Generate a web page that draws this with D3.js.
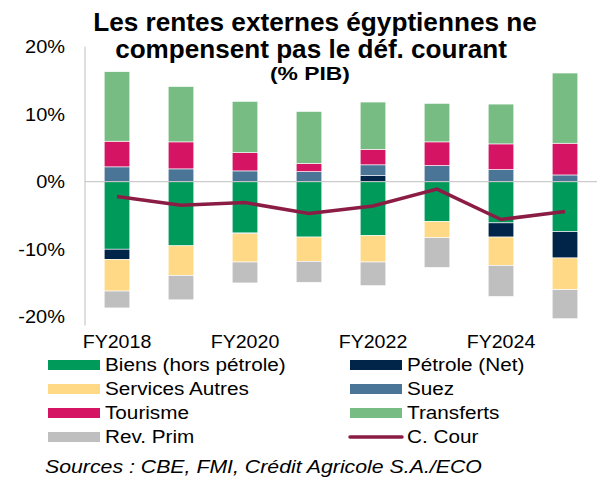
<!DOCTYPE html>
<html>
<head>
<meta charset="utf-8">
<script src="https://cdn.jsdelivr.net/npm/d3@7"></script>
<style>
  body { margin: 0; background: #fff; }
  text { font-family: Arial, "Liberation Sans", sans-serif; fill: #000; }
</style>
</head>
<body>
<div id="chart"></div>
<script>
const years = ['FY2018', 'FY2019', 'FY2020', 'FY2021', 'FY2022', 'FY2023', 'FY2024', 'FY2025'];
const biens = [-10.0, -9.5, -7.6, -8.2, -8.0, -5.9, -6.1, -7.4];
const petrole = [-1.5, 0, -0.1, 0, 0.9, 0, -2.1, -3.9];
const services = [-4.7, -4.4, -4.2, -3.6, -3.9, -2.4, -4.2, -4.7];
const suez = [2.2, 1.9, 1.6, 1.5, 1.6, 2.4, 1.8, 1.0];
const tourisme = [3.8, 4.0, 2.7, 1.2, 2.3, 3.5, 3.8, 4.7];
const transferts = [10.3, 8.2, 7.6, 7.7, 7.0, 5.7, 5.9, 10.4];
const revPrim = [-2.5, -3.6, -3.1, -3.1, -3.5, -4.4, -4.6, -4.3];
const cCour = [-2.2, -3.5, -3.1, -4.7, -3.6, -1.1, -5.6, -4.4];
const yTicks = [20, 10, 0, -10, -20];
const xLabels = ['FY2018', 'FY2020', 'FY2022', 'FY2024'];

const series = [
  { key: 'biens', name: 'Biens (hors pétrole)', values: biens, color: '#009A5B' },
  { key: 'petrole', name: 'Pétrole (Net)', values: petrole, color: '#002549' },
  { key: 'services', name: 'Services Autres', values: services, color: '#FFD985' },
  { key: 'suez', name: 'Suez', values: suez, color: '#4A7597' },
  { key: 'tourisme', name: 'Tourisme', values: tourisme, color: '#D51464' },
  { key: 'transferts', name: 'Transferts', values: transferts, color: '#77BC83' },
  { key: 'revPrim', name: 'Rev. Prim', values: revPrim, color: '#BFBFBF' }
];
const lineColor = '#8B1D45';

const width = 597, height = 482;
const svg = d3.select('#chart').append('svg')
  .attr('width', width)
  .attr('height', height);

// the reference text is a bit wider than Arial, stretch it horizontally
function stretch(sel, k) {
  sel.each(function() {
    const t = d3.select(this);
    const ax = +t.attr('x') || 0, ay = +t.attr('y') || 0;
    t.attr('transform', `translate(${ax},${ay}) scale(${k},1) translate(${-ax},${-ay})`);
  });
}
function fitWidth(sel, w) {
  sel.each(function() {
    const len = this.getComputedTextLength();
    stretch(d3.select(this), w / len);
  });
}

const x = d3.scaleBand().domain(years).range([85, 597]).paddingInner(0.6).paddingOuter(0.3);
const y = d3.scaleLinear().domain([-20, 20]).range([316.7, 46.7]);

const table = years.map((yr, i) => {
  const row = { year: yr };
  series.forEach(s => { row[s.key] = s.values[i]; });
  return row;
});
const stack = d3.stack()
  .keys(series.map(s => s.key))
  .offset(d3.stackOffsetDiverging);
const stacked = stack(table);

// title
svg.append('text').attr('x', 315).attr('y', 31.5).attr('text-anchor', 'middle')
  .style('font-size', '25.5px').style('font-weight', 'bold')
  .text('Les rentes externes égyptiennes ne')
  .call(fitWidth, 444);
svg.append('text').attr('x', 311).attr('y', 58).attr('text-anchor', 'middle')
  .style('font-size', '25.5px').style('font-weight', 'bold')
  .text('compensent pas le déf. courant')
  .call(fitWidth, 392);
svg.append('text').attr('x', 310).attr('y', 80.5).attr('text-anchor', 'middle')
  .style('font-size', '18.5px').style('font-weight', 'bold')
  .text('(% PIB)')
  .call(fitWidth, 80);

// y axis
const yAxis = d3.axisLeft(y).tickValues(yTicks).tickSize(0).tickPadding(20)
  .tickFormat(d => d + '%');
const gy = svg.append('g').attr('transform', 'translate(85,0)').call(yAxis);
gy.select('.domain').remove();
gy.selectAll('text').style('font-size', '18.5px').style('font-family', 'Arial, "Liberation Sans", sans-serif')
  .call(stretch, 1.08);
svg.append('line').attr('x1', 85).attr('x2', 85).attr('y1', y(20)).attr('y2', y(-21.3))
  .attr('stroke', '#BFBFBF').attr('stroke-width', 1);

// bars
const layers = svg.append('g').selectAll('g')
  .data(stacked)
  .join('g')
  .attr('fill', d => series.find(s => s.key === d.key).color);
layers.selectAll('rect')
  .data(d => d)
  .join('rect')
  .attr('x', d => x(d.data.year))
  .attr('width', x.bandwidth())
  .attr('y', d => y(Math.max(d[0], d[1])))
  .attr('height', d => Math.abs(y(d[0]) - y(d[1])))
  .attr('stroke', '#fff')
  .attr('stroke-width', 0.6);

// zero line
svg.append('line').attr('x1', 85).attr('x2', 597).attr('y1', y(0)).attr('y2', y(0))
  .attr('stroke', '#BFBFBF').attr('stroke-width', 1);

// current account line
const line = d3.line()
  .x((d, i) => x(years[i]) + x.bandwidth() / 2)
  .y(d => y(d));
svg.append('path').datum(cCour)
  .attr('d', line)
  .attr('fill', 'none')
  .attr('stroke', lineColor)
  .attr('stroke-width', 3.5);

// x labels
const xAxis = d3.axisBottom(x).tickValues(xLabels).tickSize(0).tickPadding(0);
const gx = svg.append('g').attr('transform', 'translate(0,334.5)').call(xAxis);
gx.select('.domain').remove();
gx.selectAll('text').style('font-size', '18.5px').style('font-family', 'Arial, "Liberation Sans", sans-serif')
  .attr('dy', '0.75em')
  .call(stretch, 1.06);

// legend
const legendItems = [
  { name: series[0].name, color: series[0].color, col: 0, row: 0 },
  { name: series[1].name, color: series[1].color, col: 1, row: 0 },
  { name: series[2].name, color: series[2].color, col: 0, row: 1 },
  { name: series[3].name, color: series[3].color, col: 1, row: 1 },
  { name: series[4].name, color: series[4].color, col: 0, row: 2 },
  { name: series[5].name, color: series[5].color, col: 1, row: 2 },
  { name: series[6].name, color: series[6].color, col: 0, row: 3 },
  { name: 'C. Cour', color: lineColor, col: 1, row: 3, line: true }
];
const colX = [48, 350];
const lg = svg.append('g').selectAll('g')
  .data(legendItems)
  .join('g')
  .attr('transform', d => `translate(${colX[d.col]},${365 + d.row * 24})`);
lg.filter(d => !d.line).append('rect')
  .attr('x', 0).attr('y', -5).attr('width', 52).attr('height', 10)
  .attr('fill', d => d.color);
lg.filter(d => d.line).append('line')
  .attr('x1', 0).attr('x2', 52).attr('y1', 0).attr('y2', 0)
  .attr('stroke', d => d.color).attr('stroke-width', 3.5).attr('stroke-linecap', 'round');
lg.append('text')
  .attr('x', 57).attr('y', 0).attr('dy', '0.35em')
  .style('font-size', '18.5px')
  .text(d => d.name)
  .call(stretch, 1.12);

// source
svg.append('text').attr('x', 45).attr('y', 473.5)
  .style('font-size', '18.5px').style('font-style', 'italic')
  .text('Sources : CBE, FMI, Crédit Agricole S.A./ECO')
  .call(fitWidth, 437);
</script>
</body>
</html>
